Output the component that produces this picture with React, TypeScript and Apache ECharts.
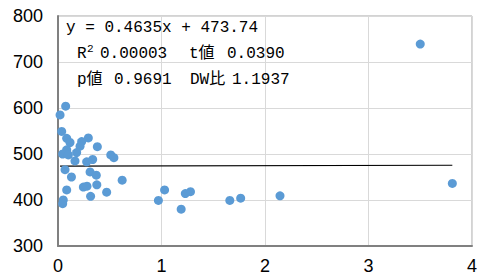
import React, { useEffect, useRef } from "react";
import * as echarts from "echarts";

const xValues = [
  0.074, 0.02, 0.036, 0.084, 0.116, 0.293, 0.229, 0.213, 0.38, 0.084,
  0.18, 0.045, 0.1, 0.164, 0.277, 0.335, 0.51, 0.54, 0.068, 0.31,
  0.37, 0.13, 0.62, 0.245, 0.28, 0.375, 0.084, 0.47, 0.315, 0.051,
  0.045, 0.97, 1.03, 1.19, 1.23, 1.28, 1.66, 1.765, 2.145, 3.5, 3.81,
];
const yValues = [
  604, 585, 549, 534, 525, 535, 527, 517, 516, 509,
  503, 500, 498, 485, 483, 488, 498, 492, 466, 461,
  454, 450, 443, 428, 430, 433, 422, 417, 408, 400,
  392, 399, 422, 380, 414, 418, 399, 404, 409, 739, 436,
];
const slope = 0.4635;
const intercept = 473.74;
const xTicks = [0, 1, 2, 3, 4];
const yTicks = [300, 400, 500, 600, 700, 800];

const line1 = "y = 0.4635x + 473.74";
const r2Label = "R";
const r2Value = "0.00003";
const tLabel = "t値";
const tValue = "0.0390";
const pLabel = "p値";
const pValue = "0.9691";
const dwLabel = "DW比";
const dwValue = "1.1937";

export default function App() {
  const ref = useRef<HTMLDivElement>(null);
  useEffect(() => {
    if (!ref.current) return;
    const chart = echarts.init(ref.current, null, { renderer: "svg" });
    const pts = xValues.map((x, i) => [x, yValues[i]]);
    const minX = Math.min(...xValues);
    const maxX = Math.max(...xValues);
    const trend = [
      [minX, slope * minX + intercept],
      [maxX, slope * maxX + intercept],
    ];
    const font = '16px "Liberation Mono", "Noto Sans CJK JP", monospace';
    const mk = (text: string, x: number, y: number, f = font) => ({
      type: "text",
      x,
      y,
      z: 100,
      style: { text, font: f, fill: "#000", verticalAlign: "middle", align: "left" },
    });
    const axisFont = '"Liberation Sans Narrow", "Liberation Sans", Arial, sans-serif';
    chart.setOption({
      animation: false,
      grid: {
        left: 58,
        top: 16,
        right: 9,
        bottom: 32,
        show: true,
        borderColor: "#a6a6a6",
        borderWidth: 1,
      },
      xAxis: {
        type: "value",
        min: xTicks[0],
        max: xTicks[xTicks.length - 1],
        interval: 1,
        axisLine: { show: true, lineStyle: { color: "#808080", width: 2 } },
        axisTick: { show: false },
        splitLine: { show: true, lineStyle: { color: "#d9d9d9", width: 1 } },
        axisLabel: {
          color: "#000",
          fontSize: 18,
          fontFamily: axisFont,
          margin: 11,
        },
      },
      yAxis: {
        type: "value",
        min: yTicks[0],
        max: yTicks[yTicks.length - 1],
        interval: 100,
        axisLine: { show: true, lineStyle: { color: "#808080", width: 2 } },
        axisTick: { show: false },
        splitLine: { show: true, lineStyle: { color: "#d9d9d9", width: 1 } },
        axisLabel: {
          color: "#000",
          fontSize: 18,
          fontFamily: axisFont,
          margin: 15,
        },
      },
      series: [
        {
          type: "line",
          data: trend,
          symbol: "none",
          lineStyle: { color: "#000", width: 1.2 },
          z: 2,
        },
        {
          type: "scatter",
          data: pts,
          symbolSize: 9,
          itemStyle: { color: "#5B9BD5", opacity: 1 },
          z: 3,
        },
      ],
      graphic: [
        mk(line1, 66, 28),
        mk(r2Label, 77, 54),
        mk("2", 87, 49, '11px "Liberation Mono", monospace'),
        mk(r2Value, 100, 54),
        mk(tLabel, 189, 54),
        mk(tValue, 227, 54),
        mk(pLabel, 77, 80),
        mk(pValue, 114, 80),
        mk(dwLabel, 190, 80),
        mk(dwValue, 232, 80),
      ],
    });
    return () => chart.dispose();
  }, []);
  return <div ref={ref} style={{ width: 481, height: 278, position: "absolute", left: 0, top: 0 }} />;
}
